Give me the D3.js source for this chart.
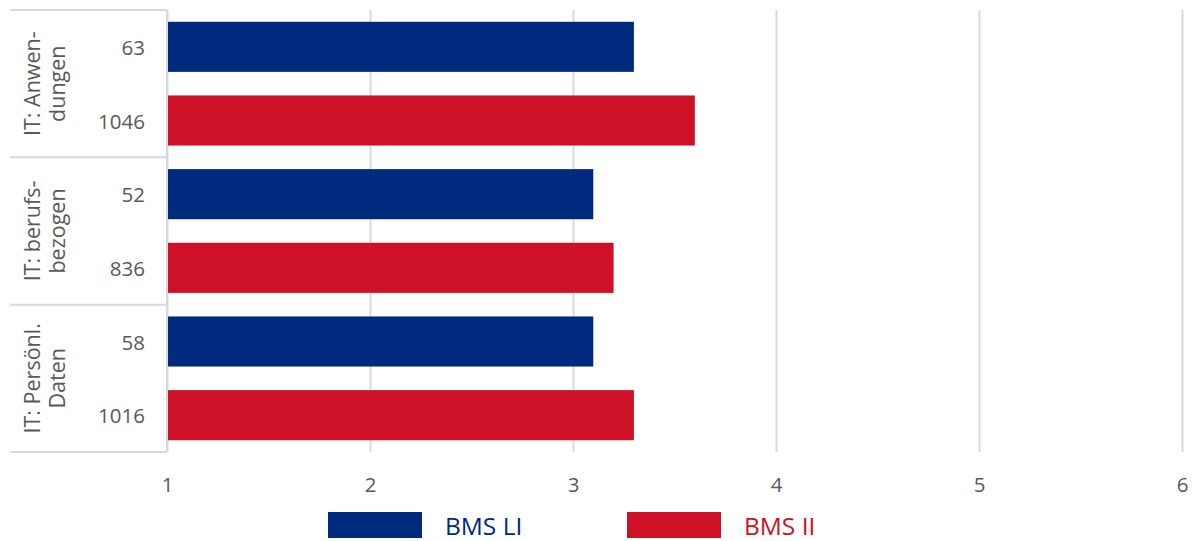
<!DOCTYPE html>
<html>
<head>
<meta charset="utf-8">
<script src="https://cdn.jsdelivr.net/npm/d3@7"></script>
<style>
  html, body { margin: 0; padding: 0; background: #fff; }
  svg { display: block; font-family: "Open Sans", sans-serif; }
</style>
</head>
<body>
<svg id="chart" width="1193" height="541"></svg>
<script>
// ---- data ----
const groupLines = [["IT: Anwen-", "dungen"], ["IT: berufs-", "bezogen"], ["IT: Persönl.", "Daten"]];
const seriesNames = ["BMS LI", "BMS II"];
const valuesLI = [3.3, 3.1, 3.1];
const valuesII = [3.6, 3.2, 3.3];
const countsLI = [63, 52, 58];
const countsII = [1046, 836, 1016];
const xTicks = [1, 2, 3, 4, 5, 6];
const colors = ["#002A7E", "#CE1126"];

(function () {
  // ---- layout ----
  const svg = d3.select("#chart");
  const pLeft = 167, pRight = 1182, pTop = 10, pBottom = 452, labelLeft = 10;
  const gridColor = "#d9d9d9", textColor = "#595959";

  const x = d3.scaleLinear().domain([1, 6]).range([pLeft, pRight]);

  const rows = [];
  groupLines.forEach((g, i) => {
    rows.push({ key: i + "-0", group: i, series: 0, value: valuesLI[i], n: countsLI[i] });
    rows.push({ key: i + "-1", group: i, series: 1, value: valuesII[i], n: countsII[i] });
  });
  const y = d3.scaleBand().domain(rows.map(r => r.key)).range([pTop, pBottom])
    .paddingInner(0.32).paddingOuter(0.16);
  const yGroup = d3.scaleBand().domain(groupLines.map((g, i) => i)).range([pTop, pBottom]);

  // gridlines + tick labels
  const xAxis = d3.axisBottom(x).tickValues(xTicks).tickSize(-(pBottom - pTop)).tickFormat(d3.format("d"));
  const gx = svg.append("g").attr("transform", `translate(0,${pBottom})`).call(xAxis);
  gx.select(".domain").remove();
  gx.selectAll(".tick line").attr("stroke", gridColor).attr("stroke-width", 2);
  gx.selectAll(".tick text").attr("fill", textColor).attr("font-size", 20.5)
    .attr("dy", 0).attr("y", 40).attr("font-family", "Open Sans");

  // group separators on left
  const seps = [pTop].concat(groupLines.map((g, i) => yGroup(i) + yGroup.bandwidth()));
  svg.append("g").selectAll("line").data(seps).join("line")
    .attr("x1", labelLeft).attr("x2", pLeft).attr("y1", d => d).attr("y2", d => d)
    .attr("stroke", gridColor).attr("stroke-width", 2);

  // bars
  svg.append("g").selectAll("rect").data(rows).join("rect")
    .attr("x", x(1)).attr("y", d => y(d.key))
    .attr("width", d => x(d.value) - x(1)).attr("height", y.bandwidth())
    .attr("fill", d => colors[d.series]);

  // count labels
  svg.append("g").selectAll("text").data(rows).join("text")
    .attr("x", 145).attr("y", d => y(d.key) + y.bandwidth() / 2)
    .attr("text-anchor", "end").attr("dominant-baseline", "central")
    .attr("fill", textColor).attr("font-size", 20.5)
    .text(d => d.n);

  // group labels (rotated)
  const gl = svg.append("g").selectAll("text").data(groupLines).join("text")
    .attr("transform", (d, i) => `translate(40,${yGroup(i) + yGroup.bandwidth() / 2}) rotate(-90)`)
    .attr("text-anchor", "middle").attr("fill", textColor).attr("font-size", 21.5);
  gl.each(function (d) {
    const t = d3.select(this);
    d.forEach((line, j) => t.append("tspan").attr("x", 0).attr("dy", j === 0 ? 0 : 25).text(line));
  });

  // vertical axis line
  svg.append("line").attr("x1", pLeft).attr("x2", pLeft).attr("y1", pTop).attr("y2", pBottom)
    .attr("stroke", gridColor).attr("stroke-width", 2);

  // legend
  const legendX = [328, 627];
  const lg = svg.append("g").selectAll("g").data(seriesNames).join("g")
    .attr("transform", (d, i) => `translate(${legendX[i]},512)`);
  lg.append("rect").attr("width", 94).attr("height", 26).attr("fill", (d, i) => colors[i]);
  lg.append("text").attr("x", 117).attr("y", 23).attr("font-size", 24.5)
    .attr("fill", (d, i) => colors[i]).text(d => d);
})();
</script>
</body>
</html>
